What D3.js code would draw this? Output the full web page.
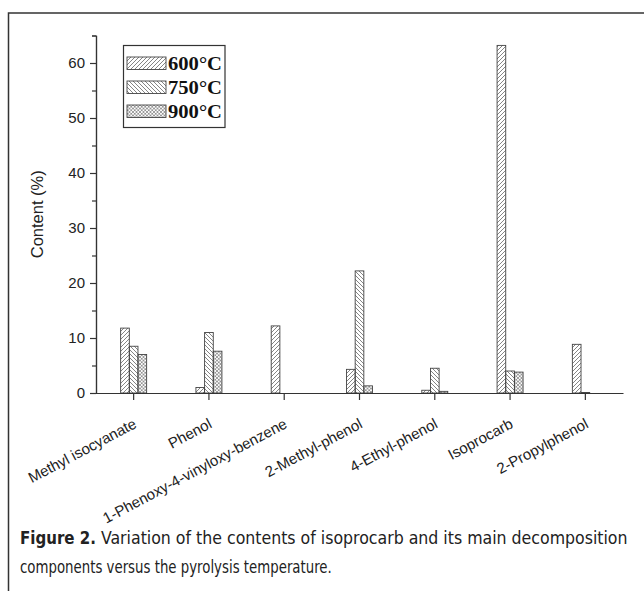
<!DOCTYPE html>
<html>
<head>
<meta charset="utf-8">
<script src="https://cdn.jsdelivr.net/npm/d3@7"></script>
<style>
  body { margin: 0; background: #fff; }
  svg { display: block; }
  .sans { font-family: "Liberation Sans", Arial, Helvetica, sans-serif; }
  .serif { font-family: "Liberation Serif", "Times New Roman", Times, serif; }
  .narrow { font-family: "Liberation Sans Narrow", "Arial Narrow", "DejaVu Sans Condensed", sans-serif; }
</style>
</head>
<body>
<div id="chart"></div>
<script>
// Chart data
const categories = ["Methyl isocyanate", "Phenol", "1-Phenoxy-4-vinyloxy-benzene",
  "2-Methyl-phenol", "4-Ethyl-phenol", "Isoprocarb", "2-Propylphenol"];
const temps = ["600°C", "750°C", "900°C"];
const values600 = [11.8, 1.0, 12.2, 4.3, 0.5, 63.2, 8.85];
const values750 = [8.5, 11.0, 0, 22.2, 4.5, 4.0, 0.1];
const values900 = [7.0, 7.6, 0, 1.3, 0.3, 3.8, 0];
const yTicks = [0, 10, 20, 30, 40, 50, 60];
const yMinorTicks = [5, 15, 25, 35, 45, 55, 65];

const seriesValues = [values600, values750, values900];

const width = 644;
const height = 591;
const marginLeft = 96;
const marginRight = 21;
const axisTop = 35.5;
const axisBottom = 393;

const svg = d3.select("#chart").append("svg")
    .attr("width", width)
    .attr("height", height)
    .attr("viewBox", [0, 0, width, height]);

// hatch patterns, one per temperature
const defs = svg.append("defs");
const p600 = defs.append("pattern").attr("id", "h600")
    .attr("patternUnits", "userSpaceOnUse").attr("width", 4).attr("height", 4);
p600.append("path").attr("d", "M-1,1 l2,-2 M0,4 l4,-4 M3,5 l2,-2")
    .attr("stroke", "#666").attr("stroke-width", 0.8);
const p750 = defs.append("pattern").attr("id", "h750")
    .attr("patternUnits", "userSpaceOnUse").attr("width", 4).attr("height", 4);
p750.append("path").attr("d", "M-1,3 l2,2 M0,0 l4,4 M3,-1 l2,2")
    .attr("stroke", "#666").attr("stroke-width", 0.8);
const p900 = defs.append("pattern").attr("id", "h900")
    .attr("patternUnits", "userSpaceOnUse").attr("width", 3.5).attr("height", 3.5);
p900.append("path").attr("d", "M-1,1 l2,-2 M0,3.5 l3.5,-3.5 M2.5,4.5 l2,-2 M-1,2.5 l2,2 M0,0 l3.5,3.5 M2.5,-1 l2,2")
    .attr("stroke", "#777").attr("stroke-width", 0.7);
const fills = ["url(#h600)", "url(#h750)", "url(#h900)"];

// outer frame
svg.append("path")
    .attr("d", `M${width + 2},13 H8.5 V${height + 2}`)
    .attr("fill", "none")
    .attr("stroke", "#333")
    .attr("stroke-width", 1.5);

// scales
const x = d3.scaleBand(categories, [marginLeft, width - marginRight]).padding(0);
const xInner = d3.scaleBand(temps, [0, 26]).padding(0);
const y = d3.scaleLinear([0, 65], [axisBottom, axisTop]);

// bars
temps.forEach((t, i) => {
  svg.append("g").selectAll("rect")
    .data(categories.map((c, j) => ({ c, v: seriesValues[i][j] })).filter(d => d.v > 0))
    .join("rect")
      .attr("x", d => x(d.c) + x.bandwidth() / 2 - 13 + xInner(t))
      .attr("y", d => y(d.v))
      .attr("width", xInner.bandwidth())
      .attr("height", d => y(0) - y(d.v))
      .attr("fill", fills[i])
      .attr("stroke", "#444")
      .attr("stroke-width", 0.9);
});

// y axis: minor ticks, then major ticks with labels
svg.append("g")
    .attr("transform", `translate(${marginLeft},0)`)
    .call(d3.axisLeft(y).tickValues(yMinorTicks).tickSize(4).tickFormat(""))
    .call(g => g.selectAll("path,line").attr("stroke", "#333").attr("stroke-width", 1.2));
svg.append("g")
    .attr("transform", `translate(${marginLeft},0)`)
    .call(d3.axisLeft(y).tickValues(yTicks).tickSize(6).tickSizeOuter(0).tickPadding(5))
    .call(g => g.attr("font-family", null).attr("font-size", null))
    .call(g => g.selectAll("path,line").attr("stroke", "#333").attr("stroke-width", 1.2))
    .call(g => g.selectAll("text")
        .attr("class", "sans")
        .attr("font-size", 15)
        .attr("fill", "#222"));

// x axis
svg.append("g")
    .attr("transform", `translate(0,${axisBottom})`)
    .call(d3.axisBottom(x).tickSize(7).tickSizeOuter(0).tickFormat(""))
    .call(g => g.selectAll("path,line").attr("stroke", "#333").attr("stroke-width", 1.2));

// rotated category labels
svg.append("g").selectAll("text")
  .data(categories)
  .join("text")
    .attr("class", "sans")
    .attr("transform", d => `translate(${x(d) + x.bandwidth() / 2 + 4},${axisBottom + 34}) rotate(-28)`)
    .attr("text-anchor", "end")
    .attr("font-size", 15)
    .attr("fill", "#222")
    .text(d => d);

// y axis title
svg.append("text")
    .attr("class", "sans")
    .attr("transform", `translate(43,${(axisTop + axisBottom) / 2}) rotate(-90)`)
    .attr("text-anchor", "middle")
    .attr("font-size", 16.5)
    .attr("fill", "#222")
    .text("Content (%)");

// legend
const legend = svg.append("g");
legend.append("rect")
    .attr("x", 123.5).attr("y", 45.5)
    .attr("width", 101.5).attr("height", 82)
    .attr("fill", "#fff")
    .attr("stroke", "#333")
    .attr("stroke-width", 1.2);
temps.forEach((t, i) => {
  const ly = 57 + i * 24;
  legend.append("rect")
      .attr("x", 127).attr("y", ly)
      .attr("width", 39).attr("height", 12.5)
      .attr("fill", fills[i])
      .attr("stroke", "#444")
      .attr("stroke-width", 0.9);
  legend.append("text")
      .attr("class", "serif")
      .attr("x", 168).attr("y", ly + 13)
      .attr("font-weight", "bold")
      .attr("font-size", 19)
      .attr("textLength", 54)
      .attr("lengthAdjust", "spacingAndGlyphs")
      .attr("fill", "#111")
      .text(t);
});

// caption: condensed look -> shrink the font to fit the width, stretch back vertically
const caption = svg.append("g").attr("fill", "#222");
function captionLine(str, x0, y0, w, bold) {
  const size = 18.5;
  const t = caption.append("text")
      .attr("class", "narrow")
      .attr("font-size", size)
      .attr("font-weight", bold ? "bold" : null)
      .text(str);
  const natural = t.node().getComputedTextLength();
  const s = w / natural;
  t.attr("font-size", size * s)
   .attr("transform", `translate(${x0},${y0}) scale(1,${1 / s})`);
}
captionLine("Figure 2.", 20, 544, 76, true);
captionLine("Variation of the contents of isoprocarb and its main decomposition", 101, 544, 527, false);
captionLine("components versus the pyrolysis temperature.", 20, 573, 312, false);
</script>
</body>
</html>
